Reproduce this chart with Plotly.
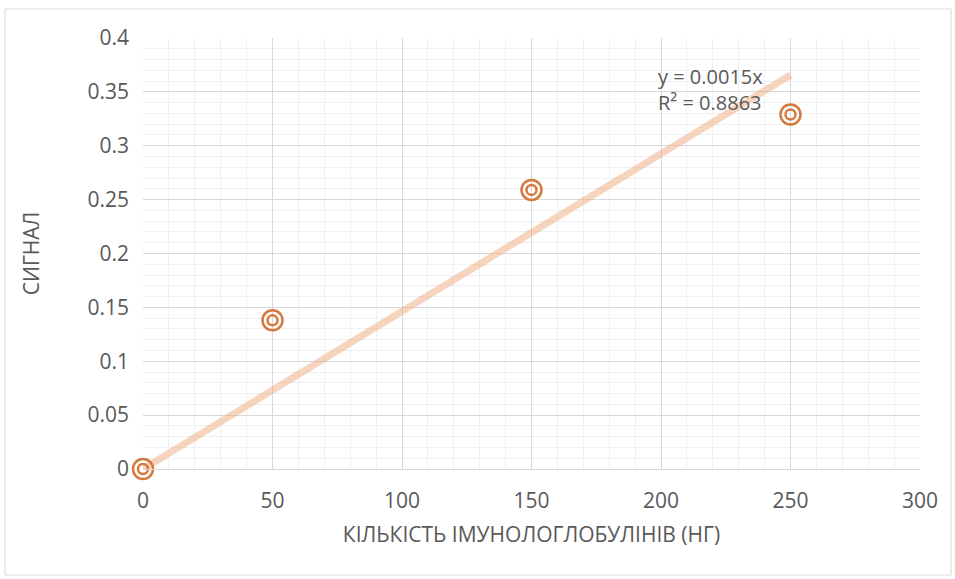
import plotly.graph_objects as go

x_vals = [0, 50, 150, 250]
y_vals = [0.0, 0.138, 0.259, 0.329]
trend_x = [0, 250]
slope = sum(a * b for a, b in zip(x_vals, y_vals)) / sum(a * a for a in x_vals)
trend_y = [slope * v for v in trend_x]

x_title = "КІЛЬКІСТЬ ІМУНОЛОГЛОБУЛІНІВ (НГ)"
y_title = "СИГНАЛ"
eq_text = "y = 0.0015x<br>R² = 0.8863"

marker_color = "#D5793C"
font_family = "Open Sans, Liberation Sans, sans-serif"
text_color = "#595959"

fig = go.Figure()
fig.add_trace(go.Scatter(x=trend_x, y=trend_y, mode="lines",
                         line=dict(color="rgba(237,170,125,0.5)", width=7),
                         hoverinfo="skip", showlegend=False, cliponaxis=False))
fig.add_trace(go.Scatter(x=x_vals, y=y_vals, mode="markers", cliponaxis=False,
                         marker=dict(symbol="circle-open", size=20, color=marker_color,
                                     line=dict(color=marker_color, width=2.5)),
                         showlegend=False))
fig.add_trace(go.Scatter(x=x_vals, y=y_vals, mode="markers", cliponaxis=False,
                         marker=dict(symbol="circle-open", size=10, color=marker_color,
                                     line=dict(color=marker_color, width=2.5)),
                         showlegend=False))

fig.add_annotation(x=198, y=0.352, xref="x", yref="y", text=eq_text,
                   showarrow=False, xanchor="left", yanchor="middle", align="left",
                   font=dict(family=font_family, size=20, color=text_color))

W, H = 955, 579
L, R, T, B = 143, 35, 38, 110
pw, ph = W - L - R, H - T - B
fig.add_shape(type="rect", xref="paper", yref="paper",
              x0=(5 - L) / pw, x1=(951 - L) / pw,
              y0=(H - B - 575) / ph, y1=(H - B - 9) / ph,
              line=dict(color="#D9D9D9", width=1), layer="below")

fig.update_layout(
    width=W, height=H,
    margin=dict(l=L, r=R, t=T, b=B),
    plot_bgcolor="white", paper_bgcolor="white",
    font=dict(family=font_family, color=text_color, size=21),
    xaxis=dict(range=[0, 300], dtick=50, tick0=0, showgrid=True, gridcolor="#D9D9D9",
               gridwidth=1, zeroline=False, showline=True, linecolor="#D9D9D9",
               ticks="", ticklabelstandoff=13,
               minor=dict(dtick=10, showgrid=True, gridcolor="#F0F0F0", gridwidth=1),
               title=dict(text=x_title, font=dict(size=21, color=text_color), standoff=14),
               tickfont=dict(size=21, color=text_color)),
    yaxis=dict(range=[0, 0.4], dtick=0.05, tick0=0, showgrid=True, gridcolor="#D9D9D9",
               gridwidth=1, zeroline=False, showline=False,
               ticks="", ticklabelstandoff=13,
               minor=dict(dtick=0.01, showgrid=True, gridcolor="#F0F0F0", gridwidth=1),
               title=dict(text=y_title, font=dict(size=21, color=text_color), standoff=42),
               tickfont=dict(size=21, color=text_color)),
)

fig.write_html("out.html", config={"displayModeBar": False},
               post_script="document.body.style.margin='0';document.body.style.overflow='hidden';")
